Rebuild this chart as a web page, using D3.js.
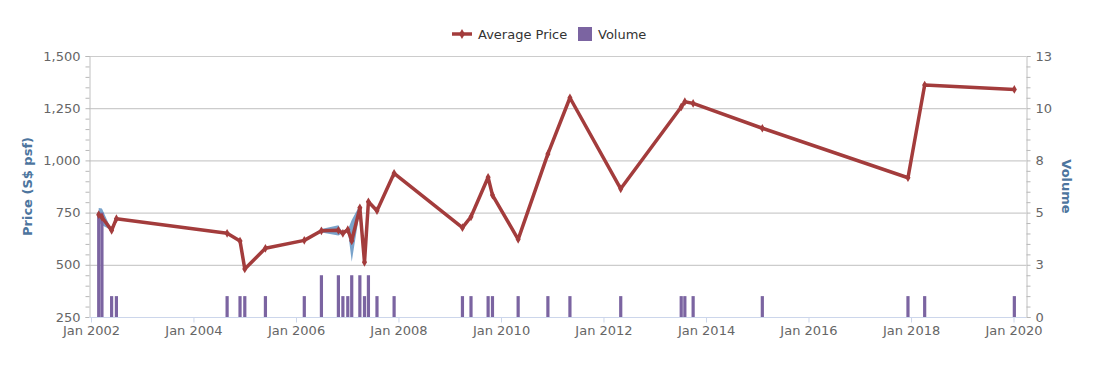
<!DOCTYPE html>
<html>
<head>
<meta charset="utf-8">
<script src="https://cdn.jsdelivr.net/npm/d3@7"></script>
<style>
  body { margin: 0; background: #fff; }
  svg { display: block; font-family: "DejaVu Sans", sans-serif; }
</style>
</head>
<body>
<svg id="chart" width="1111" height="372"></svg>
<script>
// transaction dates, average price (S$ psf), volume and min / max price
const dates = [
    "2002-02-25", "2002-03-20", "2002-05-28", "2002-07-01",
    "2004-08-28", "2004-11-28", "2005-01-01", "2005-05-28",
    "2006-03-01", "2006-07-01", "2006-10-30", "2006-12-01", "2007-01-05",
    "2007-02-02", "2007-04-01", "2007-05-04", "2007-06-01", "2007-08-01",
    "2007-12-01", "2009-04-01", "2009-06-01", "2009-10-01", "2009-11-01",
    "2010-05-03", "2010-12-01", "2011-05-07", "2012-05-03",
    "2013-07-08", "2013-08-03", "2013-10-01", "2015-02-06",
    "2017-12-10", "2018-04-08", "2020-01-07"
];
const avgPrice = [
    740, 728, 665, 721,
    651, 614, 480, 579,
    617, 663, 665, 651, 668,
    615, 773, 512, 802, 759,
    938, 678, 730, 919, 834,
    622, 1031, 1300, 864,
    1256, 1281, 1273, 1154,
    917, 1361, 1340
];
const volume = [
    5, 5, 1, 1,
    1, 1, 1, 1,
    1, 2, 2, 1, 1,
    2, 2, 1, 2, 1,
    1, 1, 1, 1, 1,
    1, 1, 1, 1,
    1, 1, 1, 1,
    1, 1, 1
];
const minPrice = [
    705, 690, 665, 721,
    651, 614, 480, 579,
    617, 655, 640, 651, 668,
    515, 760, 512, 795, 759,
    938, 678, 730, 919, 834,
    622, 1031, 1300, 864,
    1256, 1281, 1273, 1154,
    917, 1361, 1340
];
const maxPrice = [
    772, 770, 665, 721,
    651, 614, 480, 579,
    617, 671, 690, 651, 668,
    715, 786, 512, 809, 759,
    938, 678, 730, 919, 834,
    622, 1031, 1300, 864,
    1256, 1281, 1273, 1154,
    917, 1361, 1340
];
const priceTicks = [250, 500, 750, 1000, 1250, 1500];
const volumeTicks = [0, 2.5, 5, 7.5, 10, 12.5];
const yearTicks = [2002, 2004, 2006, 2008, 2010, 2012, 2014, 2016, 2018, 2020];

const parse = d3.timeParse("%Y-%m-%d");
const rows = dates.map((d, i) => ({
    date: parse(d),
    price: avgPrice[i],
    volume: volume[i],
    low: minPrice[i],
    high: maxPrice[i]
}));

const svg = d3.select("#chart");
const plot = { left: 89, right: 1026, top: 56, bottom: 317 };

const x = d3.scaleTime()
    .domain([new Date(2002, 0, 1), new Date(2020, 0, 1)])
    .range([91, 1013.5]);
const yPrice = d3.scaleLinear().domain([250, 1500]).range([plot.bottom, plot.top]);
const yVol = d3.scaleLinear().domain([0, 12.5]).range([plot.bottom, plot.top]);

const labelColor = "#666666";
const titleColor = "#4d759e";
const lineColor = "#a33c3c";
const barColor = "#7b64a1";

// grid lines
svg.append("g")
    .selectAll("line")
    .data(priceTicks)
    .join("line")
    .attr("x1", plot.left).attr("x2", plot.right)
    .attr("y1", d => yPrice(d) + 0.5).attr("y2", d => yPrice(d) + 0.5)
    .attr("stroke", "#cccccc")
    .attr("stroke-width", 1.2);

// left axis
const leftAxis = svg.append("g").attr("transform", `translate(${plot.left + 0.5},0)`);
leftAxis.call(d3.axisLeft(yPrice).tickValues(d3.range(250, 1501, 50)).tickSize(4).tickFormat(""))
    .call(g => g.select(".domain").attr("stroke", "#c0c0c0"))
    .call(g => g.selectAll(".tick line").attr("stroke", "#b8b8b8"));
leftAxis.append("g")
    .call(d3.axisLeft(yPrice).tickValues(priceTicks).tickSize(0).tickPadding(9).tickFormat(d3.format(",")))
    .call(g => g.select(".domain").remove())
    .call(g => g.selectAll("text").attr("fill", labelColor).style("font-size", "13px")
        .style("font-family", "DejaVu Sans, sans-serif"));

// right axis
const rightAxis = svg.append("g").attr("transform", `translate(${plot.right + 0.5},0)`);
rightAxis.call(d3.axisRight(yVol).tickValues(d3.range(0, 12.51, 0.5)).tickSize(4).tickFormat(""))
    .call(g => g.select(".domain").attr("stroke", "#c0c0c0"))
    .call(g => g.selectAll(".tick line").attr("stroke", "#b8b8b8"));
rightAxis.append("g")
    .call(d3.axisRight(yVol).tickValues(volumeTicks).tickSize(0).tickPadding(9).tickFormat(d => Math.round(d)))
    .call(g => g.select(".domain").remove())
    .call(g => g.selectAll("text").attr("fill", labelColor).style("font-size", "13px")
        .style("font-family", "DejaVu Sans, sans-serif"));

// bottom axis
const bottomAxis = svg.append("g").attr("transform", `translate(0,${plot.bottom + 0.5})`);
bottomAxis.call(d3.axisBottom(x)
        .tickValues(yearTicks.map(yr => new Date(yr, 0, 1)))
        .tickSize(5).tickPadding(3)
        .tickFormat(d3.timeFormat("Jan %Y")))
    .call(g => g.select(".domain").attr("d", `M${plot.left},0H${plot.right}`).attr("stroke", "#ccd6eb"))
    .call(g => g.selectAll(".tick line").attr("stroke", "#ccd6eb"))
    .call(g => g.selectAll("text").attr("fill", labelColor).style("font-size", "13px")
        .style("font-family", "DejaVu Sans, sans-serif"));

// axis titles
svg.append("text")
    .attr("transform", `translate(32,${(plot.top + plot.bottom) / 2}) rotate(-90)`)
    .attr("text-anchor", "middle")
    .attr("fill", titleColor)
    .style("font-size", "13px")
    .style("font-weight", "bold")
    .text("Price (S$ psf)");

svg.append("text")
    .attr("transform", `translate(1062,${(plot.top + plot.bottom) / 2}) rotate(90)`)
    .attr("text-anchor", "middle")
    .attr("fill", titleColor)
    .style("font-size", "13px")
    .style("font-weight", "bold")
    .text("Volume");

// min / max price range
const area = d3.area()
    .x(d => x(d.date))
    .y0(d => yPrice(d.low))
    .y1(d => yPrice(d.high));

svg.append("path")
    .datum(rows)
    .attr("d", area)
    .attr("fill", "rgba(88, 140, 190, 0.8)");

// volume bars
svg.append("g")
    .selectAll("rect")
    .data(rows)
    .join("rect")
    .attr("x", d => x(d.date) - 1.6)
    .attr("width", 3.2)
    .attr("y", d => yVol(d.volume))
    .attr("height", d => plot.bottom - yVol(d.volume))
    .attr("fill", barColor);

// average price line
const line = d3.line()
    .x(d => x(d.date))
    .y(d => yPrice(d.price));

svg.append("path")
    .datum(rows)
    .attr("d", line)
    .attr("fill", "none")
    .attr("stroke", lineColor)
    .attr("stroke-width", 3.5)
    .attr("stroke-linejoin", "round");

svg.append("g")
    .selectAll("path")
    .data(rows)
    .join("path")
    .attr("transform", d => `translate(${x(d.date)},${yPrice(d.price)})`)
    .attr("d", d3.symbol(d3.symbolDiamond, 22))
    .attr("fill", lineColor);

// legend
const legend = svg.append("g").attr("transform", "translate(0,34)");
legend.append("line")
    .attr("x1", 452).attr("x2", 472)
    .attr("stroke", lineColor).attr("stroke-width", 3.5);
legend.append("path")
    .attr("transform", "translate(462,0)")
    .attr("d", d3.symbol(d3.symbolDiamond, 30))
    .attr("fill", lineColor);
legend.append("text")
    .attr("x", 478).attr("y", 5)
    .attr("fill", "#333333")
    .style("font-size", "13px")
    .text("Average Price");
legend.append("rect")
    .attr("x", 578).attr("y", -7)
    .attr("width", 14).attr("height", 14)
    .attr("fill", barColor);
legend.append("text")
    .attr("x", 598).attr("y", 5)
    .attr("fill", "#333333")
    .style("font-size", "13px")
    .text("Volume");
</script>
</body>
</html>
